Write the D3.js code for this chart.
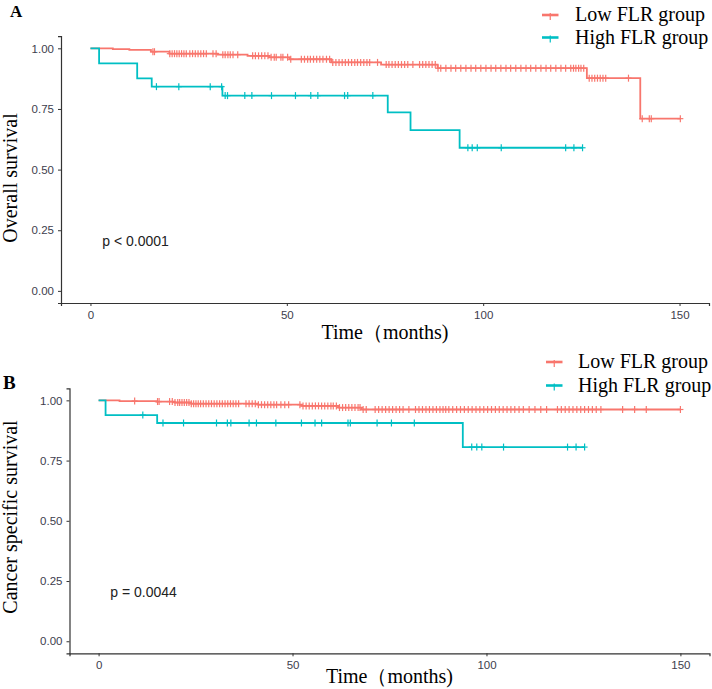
<!DOCTYPE html>
<html>
<head>
<meta charset="utf-8">
<script src="https://cdn.jsdelivr.net/npm/d3@7"></script>
<style>
html,body{margin:0;padding:0;background:#fff;}
svg{display:block;}
</style>
</head>
<body>
<svg id="chart" width="712" height="689"></svg>
<script>
// ---------- DATA ----------
const groups = ["Low FLR group", "High FLR group"];
const groupColors = ["#F8766D", "#00BFC4"];
const timeTicks = [0, 50, 100, 150];
const survTicks = [0, 0.25, 0.5, 0.75, 1.0];
const panelLabels = ["A", "B"];
const yTitles = ["Overall survival", "Cancer specific survival"];
const xTitle = "Time（months)";
const pValues = ["p < 0.0001", "p = 0.0044"];

// Panel A: overall survival
const osLowTime = [0, 5.7, 9.9, 15.4, 20.1, 32.4, 40.0, 45.5, 50.7, 61.3, 74.0, 88.4, 126.4, 140.0];
const osLowSurv = [1.000, 0.997, 0.994, 0.986, 0.978, 0.974, 0.969, 0.963, 0.955, 0.942, 0.933, 0.918, 0.877, 0.710];
const osLowEnd = 150.2;
const osLowCensor = [15.9, 16.3, 20.2, 20.8, 21.4, 22.0, 22.6, 23.2, 23.8, 24.4, 25.3, 26.0, 26.7, 27.4, 28.1, 28.8, 29.5, 31.2, 32.0, 33.7, 34.3, 35.0, 35.6, 36.3, 37.5, 41.3, 42.0, 42.8, 43.6, 44.4, 45.2, 46.0, 46.8, 47.3, 48.5, 49.0, 50.2, 51.0, 53.7, 54.5, 55.3, 56.0, 56.8, 57.6, 58.4, 59.2, 60.1, 60.9, 61.7, 62.5, 63.3, 64.1, 64.9, 65.7, 66.5, 67.3, 68.0, 68.8, 69.6, 70.4, 71.1, 73.1, 75.3, 76.0, 76.8, 77.6, 78.4, 79.2, 80.0, 80.8, 82.1, 83.8, 84.6, 85.4, 86.2, 87.0, 87.8, 88.5, 89.2, 90.5, 91.8, 93.0, 94.3, 95.6, 96.9, 98.1, 99.4, 100.7, 102.0, 103.2, 104.5, 105.8, 107.0, 108.3, 109.6, 110.9, 112.1, 113.4, 114.7, 116.0, 117.2, 118.5, 119.8, 121.0, 122.3, 123.0, 123.6, 124.3, 124.9, 125.6, 127.0, 127.7, 128.4, 129.1, 129.8, 130.5, 131.2, 137.0, 140.5, 142.3, 142.8, 150.2];

const osHighTime = [0, 2.2, 11.9, 15.6, 33.6, 75.7, 81.5, 94.0];
const osHighSurv = [1.000, 0.938, 0.876, 0.842, 0.805, 0.736, 0.663, 0.590];
const osHighEnd = 125.3;
const osHighCensor = [16.8, 22.5, 30.5, 33.4, 34.3, 34.9, 39.3, 41.1, 46.1, 52.2, 56.1, 57.9, 64.7, 65.5, 71.9, 96.1, 97.2, 98.5, 104.6, 121.0, 123.1, 125.3];

// Panel B: cancer specific survival
const cssLowTime = [0, 5.4, 14.9, 19.6, 23.9, 41.1, 52.3, 61.8, 67.8];
const cssLowSurv = [1.000, 0.997, 0.995, 0.991, 0.986, 0.982, 0.977, 0.970, 0.962];
const cssLowEnd = 150.0;
const cssLowCensor = [9.3, 15.2, 15.6, 18.3, 19.0, 19.7, 20.4, 20.9, 21.5, 22.1, 22.7, 23.3, 23.9, 24.5, 25.1, 25.7, 26.3, 27.0, 27.7, 28.4, 29.1, 29.8, 30.5, 31.2, 31.9, 32.6, 33.3, 34.0, 34.7, 35.4, 36.1, 38.0, 38.8, 39.6, 40.4, 41.2, 42.0, 42.8, 43.6, 44.4, 45.2, 45.9, 47.0, 48.0, 49.0, 51.9, 52.7, 53.5, 54.3, 55.1, 55.9, 56.7, 57.5, 58.3, 59.1, 59.9, 60.5, 61.3, 62.1, 62.9, 63.7, 64.5, 65.3, 66.1, 66.9, 67.4, 68.2, 69.0, 71.3, 72.2, 73.1, 74.0, 74.9, 75.8, 76.7, 77.6, 78.5, 80.0, 81.7, 82.6, 83.5, 84.4, 85.3, 86.2, 87.1, 88.0, 88.8, 89.5, 90.3, 91.3, 92.3, 93.3, 94.3, 95.3, 96.3, 97.3, 98.3, 99.3, 100.3, 101.3, 102.3, 103.3, 104.3, 105.3, 106.3, 107.3, 108.4, 109.5, 111.0, 112.5, 114.0, 115.5, 118.3, 119.3, 120.3, 121.3, 122.3, 123.3, 124.3, 125.3, 126.3, 127.3, 128.3, 129.5, 135.1, 138.2, 141.2, 150.0];

const cssHighTime = [0, 1.8, 15.1, 93.9];
const cssHighSurv = [1.000, 0.939, 0.906, 0.806];
const cssHighEnd = 125.3;
const cssHighCensor = [11.4, 16.6, 21.9, 30.4, 33.2, 34.1, 38.8, 40.7, 45.7, 52.3, 55.8, 57.5, 64.3, 64.9, 71.8, 75.5, 81.4, 96.2, 97.5, 98.8, 104.4, 120.9, 123.1, 125.3];

// ---------- LAYOUT ----------
const panels = [
  {
    xRange: [61, 709], yRange: [303, 36.2],
    series: [
      {time: osLowTime, surv: osLowSurv, end: osLowEnd, censor: osLowCensor},
      {time: osHighTime, surv: osHighSurv, end: osHighEnd, censor: osHighCensor}
    ],
    label: {x: 10, y: 16.5, size: 17},
    yTitleCenter: 178, yTitleX: 17,
    xTitleY: 339,
    legend: {keyX: 542, textX: 575, y0: 21, dy: 22.5},
    pval: pValues[0]
  },
  {
    xRange: [69.5, 709.5], yRange: [653.3, 388.3],
    series: [
      {time: cssLowTime, surv: cssLowSurv, end: cssLowEnd, censor: cssLowCensor},
      {time: cssHighTime, surv: cssHighSurv, end: cssHighEnd, censor: cssHighCensor}
    ],
    label: {x: 3, y: 388.5, size: 19},
    yTitleCenter: 517, yTitleX: 17,
    xTitleY: 683,
    legend: {keyX: 546, textX: 578, y0: 368, dy: 23.5},
    pval: pValues[1]
  }
];

const svg = d3.select("#chart");
const axisColor = "#333";
const tickTextColor = "#3d3d4d";
const serif = "'Liberation Serif','Times New Roman',serif";
const sans = "'Liberation Sans',Arial,sans-serif";

panels.forEach((p, pi) => {
  const x = d3.scaleLinear().domain([-7.5, 157.5]).range(p.xRange);
  const y = d3.scaleLinear().domain([-0.05, 1.05]).range(p.yRange);
  const g = svg.append("g");

  // axes
  const xAxis = d3.axisBottom(x).tickValues(timeTicks).tickSize(3).tickPadding(5).tickFormat(d3.format("d"));
  const yAxis = d3.axisLeft(y).tickValues(survTicks).tickSize(3).tickPadding(4).tickFormat(d3.format(".2f"));

  const gx = g.append("g").attr("transform", `translate(0,${p.yRange[0]})`).call(xAxis);
  const gy = g.append("g").attr("transform", `translate(${p.xRange[0]},0)`).call(yAxis);
  [gx, gy].forEach(a => {
    a.select(".domain").attr("stroke", axisColor).attr("stroke-width", 1.2);
    a.selectAll(".tick line").attr("stroke", axisColor).attr("stroke-width", 1);
    a.selectAll(".tick text").attr("fill", tickTextColor).style("font-family", sans).style("font-size", "11.5px");
  });

  // curves
  p.series.forEach((s, si) => {
    const pts = s.time.map((t, i) => [t, s.surv[i]]);
    pts.push([s.end, s.surv[s.surv.length - 1]]);
    const line = d3.line().x(d => x(d[0])).y(d => y(d[1])).curve(d3.curveStepAfter);
    g.append("path").datum(pts)
      .attr("d", line)
      .attr("fill", "none")
      .attr("stroke", groupColors[si])
      .attr("stroke-width", 1.8);

    const bis = d3.bisector(d => d).right;
    const survAt = t => s.surv[Math.max(0, bis(s.time, t) - 1)];
    const cg = g.append("g").attr("stroke", groupColors[si]).attr("stroke-width", 1.2);
    s.censor.forEach(t => {
      const cx = x(t), cy = y(survAt(t));
      cg.append("line").attr("x1", cx).attr("x2", cx).attr("y1", cy - 3.5).attr("y2", cy + 3.5);
      cg.append("line").attr("x1", cx - 3).attr("x2", cx + 3).attr("y1", cy).attr("y2", cy);
    });
  });

  // p-value
  g.append("text")
    .attr("x", x(3)).attr("y", y(0.2))
    .attr("dominant-baseline", "middle")
    .style("font-family", sans).style("font-size", "14px")
    .attr("fill", "#222")
    .text(p.pval);

  // panel label
  g.append("text")
    .attr("x", p.label.x).attr("y", p.label.y)
    .style("font-family", serif).style("font-weight", "bold").style("font-size", p.label.size + "px")
    .text(panelLabels[pi]);

  // y title
  g.append("text")
    .attr("transform", `translate(${p.yTitleX},${p.yTitleCenter}) rotate(-90)`)
    .attr("text-anchor", "middle")
    .style("font-family", serif).style("font-size", "20px")
    .attr("fill", "#000")
    .text(yTitles[pi]);

  // x title
  g.append("text")
    .attr("x", (p.xRange[0] + p.xRange[1]) / 2).attr("y", p.xTitleY)
    .attr("text-anchor", "middle")
    .style("font-family", serif).style("font-size", "20px")
    .attr("fill", "#000")
    .text(xTitle);

  // legend
  groups.forEach((name, gi) => {
    const ly = p.legend.y0 + gi * p.legend.dy;
    const ky = ly - 6;
    const lg = g.append("g");
    lg.append("line").attr("x1", p.legend.keyX).attr("x2", p.legend.keyX + 16.5)
      .attr("y1", ky).attr("y2", ky).attr("stroke", groupColors[gi]).attr("stroke-width", 2.6);
    const mx = p.legend.keyX + 8.25;
    lg.append("line").attr("x1", mx).attr("x2", mx).attr("y1", ky - 2).attr("y2", ky + 5)
      .attr("stroke", groupColors[gi]).attr("stroke-width", 1.2);
    lg.append("text").attr("x", p.legend.textX).attr("y", ly)
      .style("font-family", serif).style("font-size", "20px").attr("fill", "#000")
      .text(name);
  });
});
</script>
</body>
</html>
